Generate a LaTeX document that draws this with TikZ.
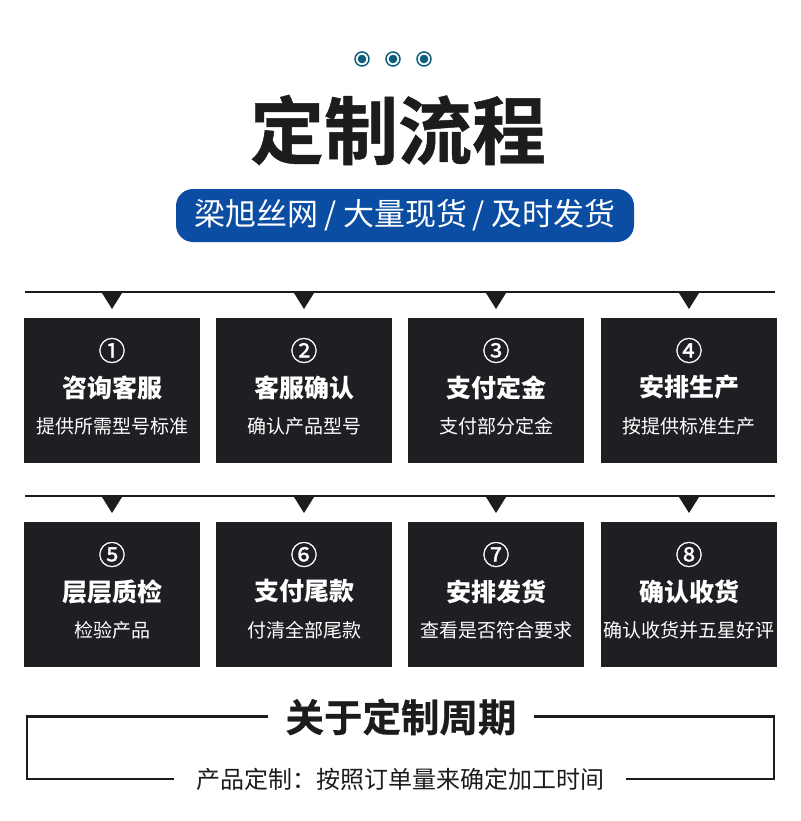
\documentclass[tikz,border=0pt]{standalone}
\usepackage{fontspec}
\setmainfont{Noto Sans CJK SC}
\newfontfamily\cjk{Noto Sans CJK SC}
\newfontfamily\cjkheavy[UprightFont=* Bold,FakeBold=0.6]{Noto Sans CJK SC}
\newfontfamily\cjkmid[FakeBold=1.2]{Noto Sans CJK SC}
\definecolor{ink}{HTML}{1C1C1E}
\definecolor{boxfill}{HTML}{1F1E23}
\definecolor{bluebar}{HTML}{0B4DA2}
\definecolor{teal}{HTML}{0D5E7C}
\begin{document}
\begin{tikzpicture}[x=1pt,y=-1pt,
  stepbox/.style={fill=boxfill,draw=none,minimum width=176pt,minimum height=145pt,inner sep=0pt,anchor=north west},
  numtxt/.style={text=white,font=\cjkmid\fontsize{27}{27}\selectfont,inner sep=0pt},
  headtxt/.style={text=white,font=\cjk\bfseries\fontsize{25}{25}\selectfont,inner sep=0pt},
  subtxt/.style={text=white,font=\cjk\fontsize{19}{19}\selectfont,inner sep=0pt},
  sepline/.style={draw=ink,line width=1.4pt},
  tri/.style={fill=ink},
  frame/.style={draw=ink,line width=2.4pt},
  dot/.style={fill=teal},
  ring/.style={draw=teal,line width=1.5pt}]
\useasboundingbox (0,0) rectangle (800,821);
\fill[white] (0,0) rectangle (800,821);
% top dots
\foreach \i/\x in {1/362,2/393,3/424}{
  \draw[ring] (\x,59) circle[radius=7pt];
  \fill[dot] (\x,59) circle[radius=4.3pt];
}
% title
\node[text=ink,font=\cjkheavy\fontsize{74}{74}\selectfont,inner sep=0pt] (title) at (398,130) {定制流程};
% blue bar
\node[fill=bluebar,rounded corners=17pt,minimum width=458pt,minimum height=53pt,inner sep=0pt,
      text=white,font=\cjk\fontsize{31}{31}\selectfont] (bar) at (405,215.5)
  {梁旭丝网\hspace{6pt}/\hspace{6pt}大量现货\hspace{6pt}/\hspace{6pt}及时发货};
% separator lines
\coordinate (l1a) at (25,292); \coordinate (l1b) at (775,292);
\coordinate (l2a) at (25,496); \coordinate (l2b) at (775,496);
\draw[sepline] (l1a) -- (l1b);
\draw[sepline] (l2a) -- (l2b);
% boxes
\foreach \n/\x/\y/\num/\head/\sub in {
  1/24/318/①/咨询客服/提供所需型号标准,
  2/216/318/②/客服确认/确认产品型号,
  3/408/318/③/支付定金/支付部分定金,
  4/601/318/④/安排生产/按提供标准生产,
  5/24/522/⑤/层层质检/检验产品,
  6/216/522/⑥/支付尾款/付清全部尾款,
  7/408/522/⑦/安排发货/查看是否符合要求,
  8/601/522/⑧/确认收货/确认收货并五星好评}{
  \node[stepbox] (b\n) at (\x,\y) {};
  \fill[tri] (\x+78,\y-25) -- (\x+98,\y-25) -- (\x+88,\y-9) -- cycle;
  \node[numtxt] (n\n) at (\x+88,\y+32.5) {\num};
  \node[headtxt] (h\n) at (\x+88,\y+69.5) {\head};
  \node[subtxt] (s\n) at (\x+88,\y+108.5) {\sub};
}
% bottom frame
\node[text=ink,font=\cjkheavy\fontsize{38.5}{38.5}\selectfont,inner ysep=0pt,inner xsep=17pt] (about) at (401,717) {关于定制周期};
\node[text=ink,font=\cjk\fontsize{24}{24}\selectfont,inner ysep=0pt,inner xsep=22pt] (note) at (400,779) {产品定制：按照订单量来确定加工时间};
\coordinate (ftl) at (27,716.5); \coordinate (fbl) at (27,779);
\coordinate (ftr) at (774,716.5); \coordinate (fbr) at (774,779);
\draw[frame] (about.west |- ftl) -- (ftl) -- (fbl) -- (note.west |- fbl);
\draw[frame] (about.east |- ftr) -- (ftr) -- (fbr) -- (note.east |- fbr);
\end{tikzpicture}
\end{document}
